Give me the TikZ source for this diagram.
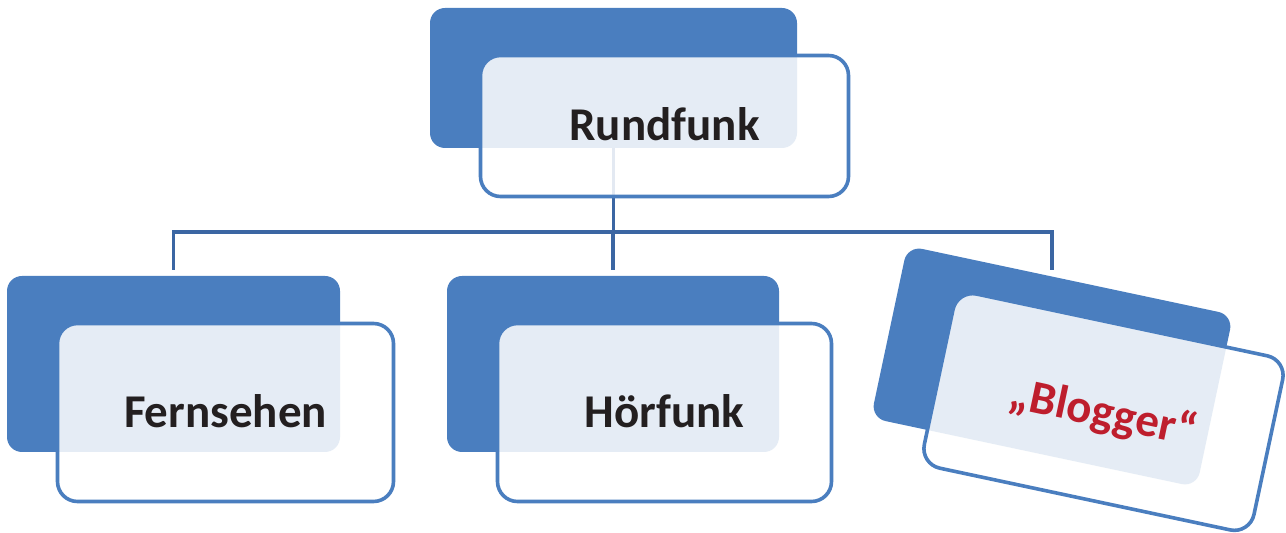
\documentclass[tikz,border=0pt]{standalone}
\usepackage{fontspec}
\setmainfont{Carlito}
\definecolor{boxblue}{HTML}{4A7EBF}
\definecolor{connblue}{HTML}{3B66A3}
\definecolor{txtdark}{HTML}{231F20}
\definecolor{txtred}{HTML}{BE1E2D}
\begin{document}
\begin{tikzpicture}[x=1pt,y=1pt,
  darkbox/.style={fill=boxblue, draw=none, rounded corners=15pt, inner sep=0pt},
  outbox/.style={draw=boxblue, line width=3.6pt, fill=white, fill opacity=0.86,
     text opacity=1, rounded corners=20pt, inner sep=0pt,
     text height=30pt, text depth=0pt,
     font=\fontsize{47}{50}\selectfont\bfseries, text=txtdark},
  conn/.style={draw=connblue, line width=3.2pt}]
\useasboundingbox (0,0) rectangle (1286,533);
% dark boxes (positions only, drawn after connectors)
\path (613.5,455) node[darkbox, minimum width=367pt, minimum height=140pt] (rundD) {};
\coordinate (bus) at (613.5,301);
\draw[conn] (rundD.south) -- (rundD.south |- bus);
\path (173.5,169) node[darkbox, minimum width=333pt, minimum height=176pt] (fernD) {};
\path (613,169) node[darkbox, minimum width=332pt, minimum height=176pt] (hoerD) {};
\path (1052,166.5) node[darkbox, minimum width=333pt, minimum height=176pt, rotate=-12] (blogD) {};
\coordinate (blogend) at ([yshift=6pt]blogD.center |- fernD.north);
\draw[conn] ([yshift=6pt]fernD.north) -- (fernD.north |- bus) -- (bus -| blogend) -- (blogend);
\draw[conn] ([yshift=6pt]hoerD.north) -- (hoerD.north |- bus);
% outline boxes
\node[outbox, minimum width=368pt, minimum height=141pt] (rund) at (664.5,407) {Rundfunk};
\node[outbox, minimum width=336pt, minimum height=178pt] (fern) at (225.5,120.5) {Fernsehen};
\node[outbox, minimum width=334pt, minimum height=178pt] (hoer) at (664.5,120.5) {Hörfunk};
\node[outbox, minimum width=337pt, minimum height=178pt, rotate=-12, text=txtred] (blog) at (1103.5,121) {„Blogger“};
\end{tikzpicture}
\end{document}
